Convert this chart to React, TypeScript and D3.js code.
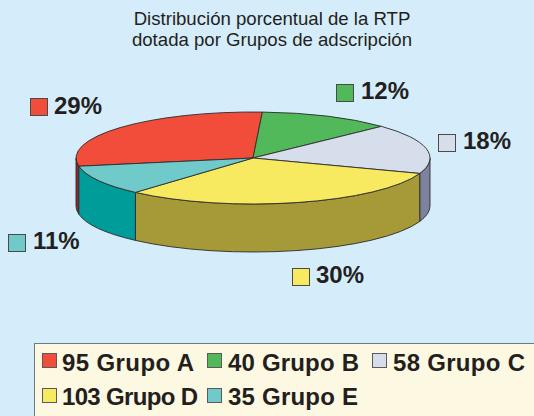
import React from "react";
import * as d3 from "d3";

const categories = ["95 Grupo A", "40 Grupo B", "58 Grupo C", "103 Grupo D", "35 Grupo E"];
const values = [95, 40, 58, 103, 35];
const percentLabels = ["29%", "12%", "18%", "30%", "11%"];
const topColors = ["#F24C3A", "#52B95B", "#D6DDEB", "#F8EA60", "#70CACA"];
const sideColors = ["#9A2428", "#3C8A45", "#7F829F", "#A69938", "#009C9A"];
const titleLines = ["Distribución porcentual de la RTP", "dotada por Grupos de adscripción"];
const titleBaselines = [24.5, 45.5];
// swatch x, swatch y, text x, baseline
const labelPos = [[30, 98], [336, 84], [438, 134], [292, 268], [8, 234]];
const labelText = [[54, 114], [361, 99], [463, 149], [316, 283], [33, 249]];
const legendPos = [[42, 353], [207, 353], [372, 353], [42, 388], [207, 388]];
const legendText = [[62, 371, 132], [228, 371, 131], [393, 371, 132], [62, 405, 136], [228, 405, 130]];

const W = 534, H = 416;
const cx = 253, cy = 158, rx = 177, ry = 46, depth = 48;
const start = (259.7 * Math.PI) / 180;
const TEXT = "#231F20";
const FONT = "'Liberation Sans', Arial, sans-serif";

export default function App() {
  const pie = d3.pie<number>().sort(null).startAngle(start).endAngle(start + 2 * Math.PI);
  const arcs = pie(values);
  const xOf = d3.scaleLinear().domain([-1, 1]).range([cx - rx, cx + rx]);
  const yOf = d3.scaleLinear().domain([-1, 1]).range([cy - ry, cy + ry]);
  const px = (a: number) => xOf(Math.sin(a));
  const py = (a: number) => yOf(-Math.cos(a));
  const stroke = "#2b2b2b";

  const wedges = arcs.map((d) => {
    const large = d.endAngle - d.startAngle > Math.PI ? 1 : 0;
    return `M${cx},${cy}L${px(d.startAngle)},${py(d.startAngle)}A${rx},${ry} 0 ${large} 1 ${px(d.endAngle)},${py(d.endAngle)}Z`;
  });

  const sides: { path: string; color: string }[] = [];
  arcs.forEach((d, i) => {
    [[Math.PI / 2, 1.5 * Math.PI], [2.5 * Math.PI, 3.5 * Math.PI]].forEach(([lo, hi]) => {
      const a = Math.max(d.startAngle, lo), b = Math.min(d.endAngle, hi);
      if (b <= a) return;
      sides.push({
        path: `M${px(a)},${py(a)}A${rx},${ry} 0 0 1 ${px(b)},${py(b)}L${px(b)},${py(b) + depth}A${rx},${ry} 0 0 0 ${px(a)},${py(a) + depth}Z`,
        color: sideColors[i],
      });
    });
  });

  return (
    <svg width={W} height={H} style={{ position: "absolute", left: 0, top: 0 }} fontFamily={FONT}>
      <rect width={W} height={H} fill="#D5ECFB" />
      {titleLines.map((t, i) => (
        <text key={t} x={272} y={titleBaselines[i]} textAnchor="middle" fontSize={18.6} fill={TEXT}>{t}</text>
      ))}
      {sides.map((s, i) => (
        <path key={i} d={s.path} fill={s.color} stroke={stroke} strokeWidth={0.9} strokeLinejoin="round" />
      ))}
      {wedges.map((d, i) => (
        <path key={i} d={d} fill={topColors[i]} stroke={stroke} strokeWidth={0.9} strokeLinejoin="round" />
      ))}
      {percentLabels.map((t, i) => (
        <g key={t}>
          <rect x={labelPos[i][0] + 0.5} y={labelPos[i][1] + 0.5} width={17} height={17} fill={topColors[i]} stroke="#4a4a4a" strokeWidth={1} />
          <text x={labelText[i][0]} y={labelText[i][1]} fontSize={24} fontWeight="bold" fill={TEXT}>{t}</text>
        </g>
      ))}
      <rect x={34.5} y={343.5} width={510} height={90} fill="#FDF8E1" stroke="#6f7a7f" strokeWidth={1} />
      {categories.map((t, i) => (
        <g key={t}>
          <rect x={legendPos[i][0] + 0.5} y={legendPos[i][1] + 0.5} width={14} height={14} fill={topColors[i]} stroke="#5a5a5a" strokeWidth={1} />
          <text x={legendText[i][0]} y={legendText[i][1]} fontSize={24} fontWeight="bold" fill={TEXT} textLength={legendText[i][2]} lengthAdjust="spacing">{t}</text>
        </g>
      ))}
    </svg>
  );
}
